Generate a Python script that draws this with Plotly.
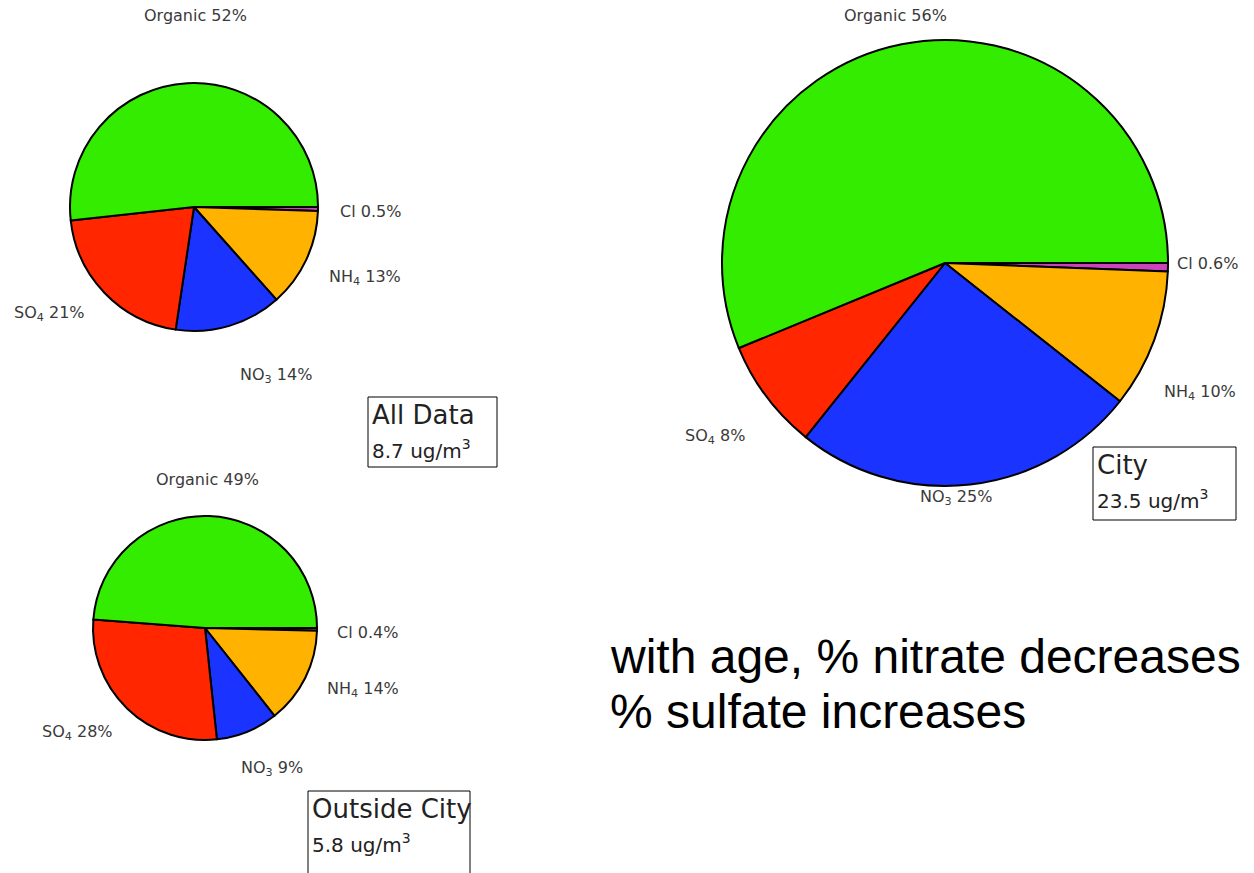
import plotly.graph_objects as go

# species in the order they are drawn (counterclockwise from 3 o'clock)
species = ["Organic", "SO<sub>4</sub>", "NO<sub>3</sub>", "NH<sub>4</sub>", "Cl"]
colors = ["#33EC00", "#FF2600", "#1A33FF", "#FFB300", "#CC44BB"]

all_data = [52, 21, 14, 13, 0.5]
city = [56, 8, 25, 10, 0.6]
outside = [49, 28, 9, 14, 0.4]

box_titles = ["All Data", "City", "Outside City"]
box_mass = ["8.7", "23.5", "5.8"]

note_lines = ["with age, % nitrate decreases", "% sulfate increases"]

W, H = 1254, 873


def dom(cx, cy, r):
    return dict(x=[(cx - r) / W, (cx + r) / W], y=[1 - (cy + r) / H, 1 - (cy - r) / H])


def px(x, y):
    return x / W, 1 - y / H


fig = go.Figure()

# pie centre / radius in pixels, label spots, summary box
panels = [
    dict(vals=all_data, c=(194, 207), r=124,
         lab=[(195, 15), (12, 313), (238, 375), (327, 277), (338, 211)],
         box=(368, 397, 497, 467)),
    dict(vals=city, c=(945, 263), r=223,
         lab=[(895, 15), (683, 436), (918, 497), (1162, 393), (1175, 263)],
         box=(1093, 447, 1236, 520)),
    dict(vals=outside, c=(205, 628), r=112,
         lab=[(207, 479), (40, 732), (239, 768), (325, 689), (335, 632)],
         box=(308, 791, 470, 900)),
]

annotations = []
shapes = []
for i, p in enumerate(panels):
    # plotly's counterclockwise mode ends the first slice at `rotation`,
    # so draw clockwise with the order reversed instead
    fig.add_trace(go.Pie(
        labels=species[::-1], values=p["vals"][::-1], sort=False,
        direction="clockwise", rotation=90,
        marker=dict(colors=colors[::-1], line=dict(color="black", width=2)),
        textinfo="none", hoverinfo="label+percent",
        domain=dom(p["c"][0], p["c"][1], p["r"]),
        showlegend=False,
    ))
    for j, (name, v) in enumerate(zip(species, p["vals"])):
        x, y = px(*p["lab"][j])
        annotations.append(dict(
            x=x, y=y, xref="paper", yref="paper",
            text=f"{name} {v:g}%", showarrow=False,
            xanchor="center" if j == 0 else "left", yanchor="middle",
            font=dict(family="DejaVu Sans", size=16, color="#3a3a3a"),
        ))
    x0, y0, x1, y1 = p["box"]
    shapes.append(dict(type="rect", xref="paper", yref="paper",
                       x0=x0 / W, x1=x1 / W, y0=1 - y1 / H, y1=1 - y0 / H,
                       line=dict(color="black", width=1)))
    tx, ty = px(x0 + 2, y0 + 1)
    annotations.append(dict(
        x=tx, y=ty, xref="paper", yref="paper", xanchor="left", yanchor="top",
        align="left", showarrow=False,
        text=f"{box_titles[i]}<br><span style='font-size:20px'>{box_mass[i]} ug/m<sup>3</sup></span>",
        font=dict(family="DejaVu Sans", size=26, color="#222222"),
    ))

for k, (line, ly) in enumerate(zip(note_lines, [656, 711])):
    tx, ty = px(608, ly)
    annotations.append(dict(
        x=tx, y=ty, xref="paper", yref="paper", xanchor="left", yanchor="middle",
        align="left", showarrow=False, text=line,
        font=dict(family="Liberation Sans", size=48, color="black"),
    ))

fig.update_layout(
    width=W, height=H,
    margin=dict(l=0, r=0, t=0, b=0),
    paper_bgcolor="white", plot_bgcolor="white",
    annotations=annotations, shapes=shapes,
)

fig.write_html("out.html", config={"displayModeBar": False},
               post_script="document.body.style.margin='0';")
